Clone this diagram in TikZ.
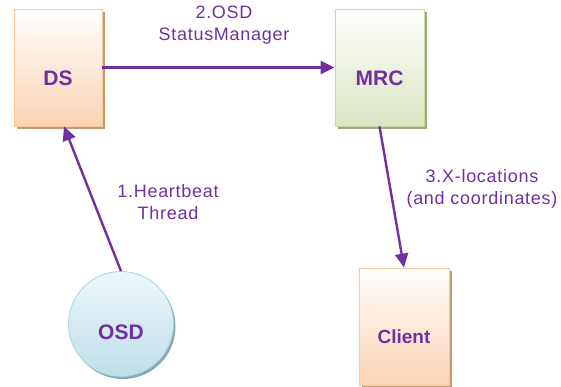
\documentclass[tikz,border=0pt]{standalone}
\usepackage{fontspec}
\setmainfont{Liberation Sans}
\newfontfamily\spacedsans[LetterSpace=4]{Liberation Sans}
\usetikzlibrary{shadows,arrows.meta,calc}
\definecolor{purp}{HTML}{7030A0}
\definecolor{orBorder}{HTML}{F9C89E}
\definecolor{orBot}{HTML}{FBD3B3}
\definecolor{orShadow}{HTML}{C29A74}
\definecolor{grBorder}{HTML}{C8D9A6}
\definecolor{grBot}{HTML}{DAE5C2}
\definecolor{grShadow}{HTML}{9CA987}
\definecolor{blBorder}{HTML}{A6D4DF}
\definecolor{blTop}{HTML}{EEF7FA}
\definecolor{blBot}{HTML}{BDDFE8}
\definecolor{blShadow}{HTML}{86A9B4}
\tikzset{
  orangebox/.style={rectangle, draw=orBorder, line width=0.8pt, top color=white, bottom color=orBot,
    drop shadow={shadow xshift=2.5pt, shadow yshift=-2.5pt, fill=orShadow, opacity=1}},
  greenbox/.style={rectangle, draw=grBorder, line width=0.8pt, top color=white, bottom color=grBot,
    drop shadow={shadow xshift=2.5pt, shadow yshift=-2.5pt, fill=grShadow, opacity=1}},
  bluecircle/.style={circle, draw=blBorder, line width=0.8pt, top color=blTop, bottom color=blBot,
    drop shadow={shadow xshift=2pt, shadow yshift=-2.5pt, fill=blShadow, opacity=1}},
  boxlbl/.style={text=purp, font=\fontsize{21}{24}\selectfont\bfseries, inner sep=0pt},
  edgelbl/.style={text=purp, font=\spacedsans\fontsize{18}{22}\selectfont, align=center, inner sep=0pt},
  conn/.style={draw=purp, line width=2.4pt, -{Triangle[length=14pt,width=13pt]}},
}
\begin{document}
\begin{tikzpicture}[x=1pt,y=-1pt]
\useasboundingbox (0,0) rectangle (561,386);
\node[orangebox, minimum width=88pt, minimum height=117pt] (ds) at (58,67.5) {};
\node[greenbox, minimum width=89pt, minimum height=117pt] (mrc) at (379.5,67.5) {};
\node[orangebox, minimum width=90pt, minimum height=117pt] (client) at (404,326.5) {};
\node[bluecircle, minimum size=105pt, inner sep=0pt] (osd) at (121,324) {};
\node[boxlbl] (dsl) at (58,78) {DS};
\node[boxlbl] (mrcl) at (379.5,78) {MRC};
\node[boxlbl, font=\fontsize{19}{22}\selectfont\bfseries] (clientl) at (404,337) {Client};
\node[boxlbl] (osdl) at (121,332) {OSD};
\coordinate (dsin) at ($(ds.south)+(6,0)$);
\draw[conn] (ds.east) -- (mrc.west);
\draw[conn] (osd.north) -- (dsin);
\draw[conn] (mrc.south) -- (client.north);
\node[edgelbl] (l2) at (224,25) {2.OSD\\StatusManager};
\node[edgelbl] (l1) at (168,202) {1.Heartbeat\\Thread};
\node[edgelbl] (l3) at (482,189) {3.X-locations\\(and coordinates)};
\end{tikzpicture}
\end{document}
